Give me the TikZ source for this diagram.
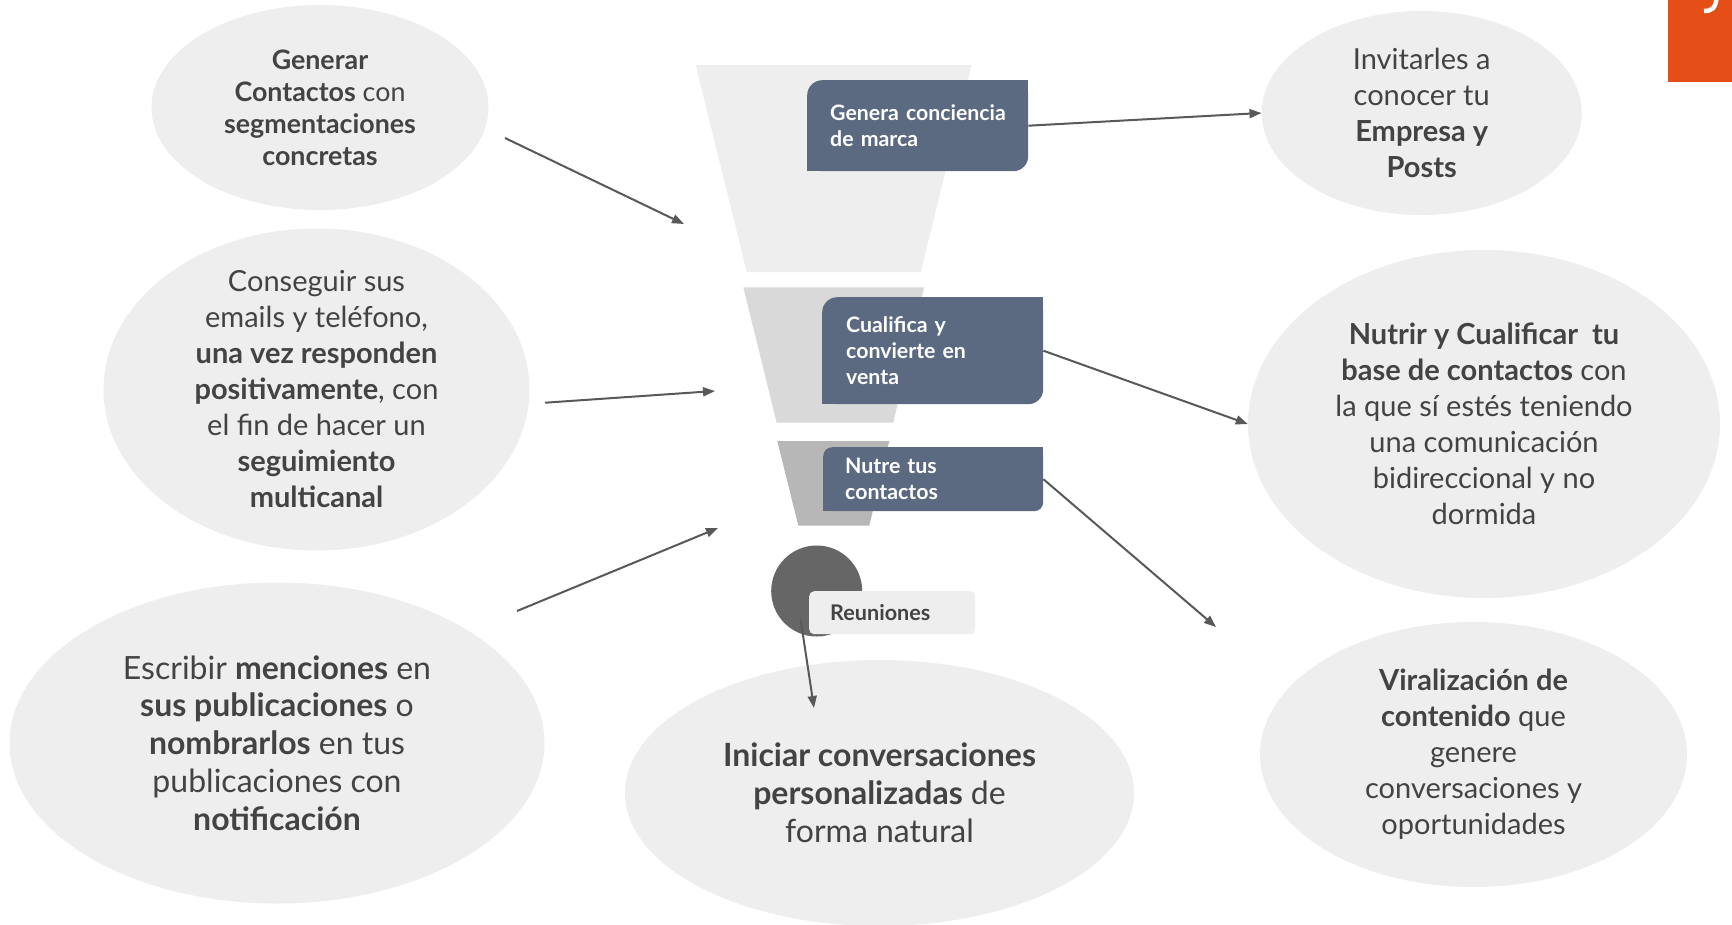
\documentclass[tikz,border=0pt]{standalone}
\usepackage{fontspec}
\setmainfont{Lato}
\usetikzlibrary{shapes.geometric,arrows.meta}
\definecolor{bubc}{HTML}{EEEEEE}
\definecolor{txtc}{HTML}{434343}
\definecolor{boxc}{HTML}{5B6A80}
\definecolor{fa}{HTML}{EEEEEE}
\definecolor{fb}{HTML}{D9D9D9}
\definecolor{fc}{HTML}{B7B7B7}
\definecolor{dotc}{HTML}{666666}
\definecolor{arrc}{HTML}{595959}
\definecolor{orng}{HTML}{E64E17}
\tikzset{
  bubble/.style={ellipse, fill=bubc, draw=none, inner sep=0pt},
  etxt/.style={text=txtc, align=center, inner sep=0pt},
  ebig/.style={etxt, font=\fontsize{32}{37.8}\selectfont},
  emid/.style={etxt, font=\fontsize{29}{36}\selectfont},
  esmall/.style={etxt, font=\fontsize{26.8}{32}\selectfont},
  dbox/.style={rectangle, fill=boxc, inner ysep=0pt, align=left, text=white,
    font=\fontsize{21.3}{25.8}\selectfont\bfseries, anchor=north west},
  rbox/.style={rectangle, fill=bubc, rounded corners=5pt, inner ysep=0pt, align=left,
    text=txtc, font=\fontsize{21.6}{24}\selectfont\bfseries, anchor=north west},
  arr/.style={draw=arrc, line width=2pt, -{Triangle[length=12pt,width=9pt]}},
}
\begin{document}
\begin{tikzpicture}[x=1pt,y=-1pt]
\fill[white] (0,0) rectangle (1732,924);
\useasboundingbox (0,0) rectangle (1732,924);

% corner tab
\fill[orng] (1668,0) rectangle (1732,82);
\draw[white, line width=4.5pt] (1716.5,-2) .. controls (1715.5,8) and (1712,11) .. (1704,11);

% bubbles
\node[bubble, minimum width=337pt, minimum height=205pt] (e1) at (320,107.5) {};
\node[bubble, minimum width=426pt, minimum height=322pt] (e2) at (316.5,389.5) {};
\node[bubble, minimum width=535pt, minimum height=321pt] (e3) at (277,743) {};
\node[bubble, minimum width=509pt, minimum height=266pt] (e4) at (879.5,793) {};
\node[bubble, minimum width=320pt, minimum height=204pt] (e5) at (1421.7,113) {};
\node[bubble, minimum width=472pt, minimum height=348pt] (e6) at (1484,424) {};
\node[bubble, minimum width=427pt, minimum height=265pt] (e7) at (1473.5,754.5) {};

% funnel
\fill[fa] (695.7,65) -- (971.7,65) -- (920.7,272) -- (746.7,272) -- cycle;
\fill[fb] (743.3,287.3) -- (924,287.3) -- (893.3,422.7) -- (776.7,422.7) -- cycle;
\fill[fc] (777.3,441) -- (889.3,441) -- (869.3,525.7) -- (798.3,525.7) -- cycle;

% meeting dot and label
\node[circle, fill=dotc, minimum size=91pt, inner sep=0pt] (c1) at (816.7,591) {};
\node[rbox, minimum width=166pt, minimum height=43pt, text width=124pt, inner xsep=21pt] (r1) at (809,591) {Reuniones};

% stage boxes
\node[dbox, rounded corners=15pt, minimum height=91pt, text width=175pt, inner xsep=23pt] (b1) at (807,80) {\mbox{Genera conciencia}\\\mbox{de marca}};
\fill[boxc] (b1.north east) rectangle ([xshift=-16pt,yshift=-16pt]b1.north east);
\fill[boxc] (b1.south west) rectangle ([xshift=16pt,yshift=16pt]b1.south west);

\node[dbox, rounded corners=15pt, minimum height=107pt, text width=173pt, inner xsep=24pt] (b2) at (822,297) {\mbox{Cualifica y}\\\mbox{convierte en}\\\mbox{venta}};
\fill[boxc] (b2.north east) rectangle ([xshift=-16pt,yshift=-16pt]b2.north east);
\fill[boxc] (b2.south west) rectangle ([xshift=16pt,yshift=16pt]b2.south west);

\node[dbox, rounded corners=9pt, minimum height=64pt, text width=176pt, inner xsep=22pt] (b3) at (823,447) {\mbox{Nutre tus}\\\mbox{contactos}};
\fill[boxc] (b3.north east) rectangle ([xshift=-10pt,yshift=-10pt]b3.north east);
\fill[boxc] (b3.south west) rectangle ([xshift=10pt,yshift=10pt]b3.south west);

% bubble texts
\node[esmall] (t1) at (e1) {\textbf{Generar}\\\textbf{Contactos} con\\\textbf{segmentaciones}\\\textbf{concretas}};
\node[emid] (t2) at (e2) {Conseguir sus\\emails y teléfono,\\\textbf{una vez responden}\\\textbf{positivamente}, con\\el fin de hacer un\\\textbf{seguimiento}\\\textbf{multicanal}};
\node[ebig] (t3) at (e3) {Escribir \textbf{menciones} en\\\textbf{sus publicaciones} o\\\textbf{nombrarlos} en tus\\publicaciones con\\\textbf{notificación}};
\node[ebig] (t4) at (e4) {\textbf{Iniciar conversaciones}\\\textbf{personalizadas} de\\forma natural};
\node[emid] (t5) at (e5) {Invitarles a\\conocer tu\\\textbf{Empresa y}\\\textbf{Posts}};
\node[emid] (t6) at (e6) {\textbf{Nutrir y Cualificar\ \ tu}\\\textbf{base de contactos} con\\la que sí estés teniendo\\una comunicación\\bidireccional y no\\dormida};
\node[emid] (t7) at (e7) {\textbf{Viralización de}\\\textbf{contenido} que\\genere\\conversaciones y\\oportunidades};

% free ends
\coordinate (a1s) at (505,138);   \coordinate (a1e) at (684,224);
\coordinate (a2s) at (545,402.7); \coordinate (a2e) at (715,391);
\coordinate (a3s) at (517,611);   \coordinate (a3e) at (718,528);
\coordinate (a6e) at (1216,627);
\coordinate (a7s) at (800.7,620); \coordinate (a7e) at (814,708);

% connectors
\draw[arr] (a1s) -- (a1e);
\draw[arr] (a2s) -- (a2e);
\draw[arr] (a3s) -- (a3e);
\draw[arr] (b1.east) -- (e5.west);
\draw[arr] (b2.east) -- (e6.west);
\draw[arr] (b3.east) -- (a6e);
\draw[arr] (a7s) -- (a7e);
\end{tikzpicture}
\end{document}
